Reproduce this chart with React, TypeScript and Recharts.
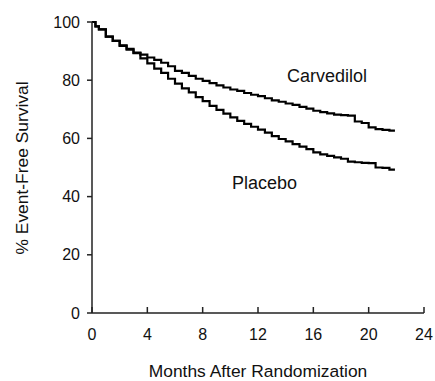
import React from "react";
import {
  LineChart,
  Line,
  XAxis,
  YAxis,
  Customized,
} from "recharts";

// months after randomization (time points)
const months = [
  0, 0.25, 0.5, 1, 1.5, 2, 2.5, 3, 3.5, 4, 4.5, 5, 5.5, 6, 6.5, 7, 7.5, 8, 8.5,
  9, 9.5, 10, 10.5, 11, 11.5, 12, 12.5, 13, 13.5, 14, 14.5, 15, 15.5, 16, 16.5,
  17, 17.5, 18, 18.5, 19, 19.5, 20, 20.5, 21, 21.5, 21.9,
];

// % event-free survival, carvedilol arm
const carvedilol = [
  100, 98.5, 97.5, 95, 93.5, 92, 90.8, 89.5, 88.8, 87.8, 87, 86, 84.8, 83.2,
  82.5, 81.5, 80.5, 79.8, 79, 78.2, 77.5, 76.8, 76.3, 75.6, 75, 74.5, 73.8,
  73.1, 72.6, 72, 71.5, 70.8, 70.2, 69.5, 69, 68.6, 68.2, 68, 67.8, 65.8, 65.3,
  63.8, 63.2, 62.9, 62.7, 62.7,
];

// % event-free survival, placebo arm
const placebo = [
  100, 98.5, 97.5, 95, 93.5, 91.8, 90.5, 89.3, 87.5, 85.8, 84, 82.5, 80.5,
  78.8, 77.2, 75.8, 74.2, 72.8, 71.2, 69.8, 68.5, 67.2, 66, 65, 64, 63, 62,
  60.8, 59.8, 59, 58, 57.2, 56.3, 55.2, 54.5, 54, 53.5, 53, 52, 51.8, 51.6,
  51.5, 50, 49.9, 49.3, 49.3,
];

const xTicks = [0, 4, 8, 12, 16, 20, 24];
const yTicks = [0, 20, 40, 60, 80, 100];

const FONT = "'Liberation Sans', Arial, Helvetica, sans-serif";

const data = months.map((m, i) => ({
  month: m,
  carvedilol: carvedilol[i],
  placebo: placebo[i],
}));

function Labels() {
  return (
    <g fontFamily={FONT} fill="#111">
      <text x={287} y={82} fontSize={18}>
        Carvedilol
      </text>
      <text x={232} y={189} fontSize={18}>
        Placebo
      </text>
      <text x={258} y={377} fontSize={17.4} textAnchor="middle">
        Months After Randomization
      </text>
      <text
        x={27.5}
        y={168}
        fontSize={17.4}
        textAnchor="middle"
        transform="rotate(-90, 27.5, 168)"
      >
        % Event-Free Survival
      </text>
    </g>
  );
}

export default function App() {
  return (
    <div
      style={{
        position: "absolute",
        left: 0,
        top: 0,
        width: 435,
        height: 381,
        background: "#fff",
      }}
    >
      <LineChart
        width={435}
        height={381}
        data={data}
        margin={{ top: 22, right: 11, bottom: 18, left: 0 }}
      >
        <XAxis
          type="number"
          dataKey="month"
          domain={[0, 24]}
          ticks={xTicks}
          height={50}
          tickSize={-6}
          tickMargin={22}
          stroke="#222"
          strokeWidth={1.5}
          tick={{ fill: "#111", fontSize: 16, fontFamily: FONT }}
        />
        <YAxis
          type="number"
          domain={[0, 100]}
          ticks={yTicks}
          width={92}
          tickSize={5}
          tickMargin={7}
          stroke="#222"
          strokeWidth={1.5}
          tick={{ fill: "#111", fontSize: 16, fontFamily: FONT }}
        />
        <Line
          type="stepAfter"
          dataKey="carvedilol"
          stroke="#000"
          strokeWidth={2.2}
          dot={false}
          isAnimationActive={false}
        />
        <Line
          type="stepAfter"
          dataKey="placebo"
          stroke="#000"
          strokeWidth={2.2}
          dot={false}
          isAnimationActive={false}
        />
        <Customized component={Labels} />
      </LineChart>
    </div>
  );
}
